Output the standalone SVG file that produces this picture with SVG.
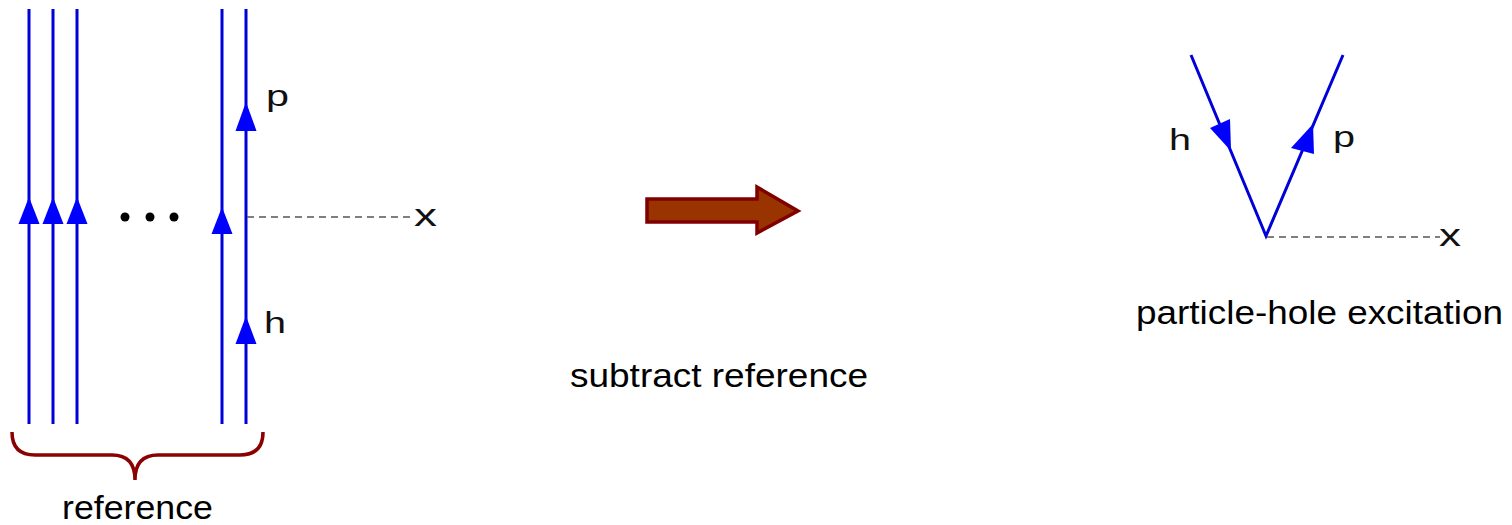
<svg xmlns="http://www.w3.org/2000/svg" width="1512" height="525" viewBox="0 0 1512 525">
<style>
.fl{stroke:#0000d8;stroke-width:3;fill:none}
.ah{fill:#0000ff}
.dash{stroke:#555;stroke-width:1.3;stroke-dasharray:7,5;fill:none}
.lbl{font-family:"Liberation Sans",Arial,sans-serif;font-size:29px;fill:#111}
.xl{font-family:"Liberation Sans",Arial,sans-serif;font-size:31px;fill:#111}
.cap{font-family:"Liberation Sans",Arial,sans-serif;font-size:34px;fill:#000}
</style>
<rect width="1512" height="525" fill="#fff"/>
<g id="connectors">
<line class="fl" x1="29" y1="9" x2="29" y2="424"/>
<line class="fl" x1="53" y1="9" x2="53" y2="424"/>
<line class="fl" x1="77" y1="9" x2="77" y2="424"/>
<line class="fl" x1="222" y1="9" x2="222" y2="424"/>
<line class="fl" x1="246" y1="9" x2="246" y2="424"/>
<polygon class="ah" points="29,197 18.5,224 39.5,224"/>
<polygon class="ah" points="53,197 42.5,224 63.5,224"/>
<polygon class="ah" points="77,197 66.5,224 87.5,224"/>
<polygon class="ah" points="222,207 211.5,234 232.5,234"/>
<polygon class="ah" points="246,102 235.5,131 256.5,131"/>
<polygon class="ah" points="246,316 235.5,344 256.5,344"/>
<line class="dash" x1="247" y1="217" x2="412" y2="217"/>
<polyline class="fl" points="1191,55 1266,236 1343,55"/>
<polygon class="ah" points="1231,151 1210,128 1230,119"/>
<polygon class="ah" points="1313,124 1291,148 1314,154"/>
<line class="dash" x1="1267" y1="237" x2="1440" y2="237"/>
</g>
<g id="dots">
<circle cx="125" cy="217" r="4.5" fill="#000"/>
<circle cx="150" cy="217" r="4.5" fill="#000"/>
<circle cx="174" cy="217" r="4.5" fill="#000"/>
</g>
<g id="labels-left">
<text class="lbl" x="266" y="106" textLength="23" lengthAdjust="spacingAndGlyphs">p</text>
<text class="lbl" x="264" y="333" textLength="22" lengthAdjust="spacingAndGlyphs">h</text>
<text class="xl" x="414" y="226" textLength="23" lengthAdjust="spacingAndGlyphs">x</text>
</g>
<g id="brace">
<path d="M12,432 Q12,455 35,455 L112,455 Q135,455 135,480 Q135,455 158,455 L240,455 Q263,455 263,432" fill="none" stroke="#8b0000" stroke-width="3.5"/>
<text class="cap" x="62" y="519" textLength="151" lengthAdjust="spacingAndGlyphs">reference</text>
</g>
<g id="big-arrow">
<polygon points="647,199 757,199 757,187 798,211 757,233 757,222 647,222" fill="#993300" stroke="#800000" stroke-width="3.5" stroke-linejoin="miter"/>
<text class="cap" x="570" y="387" textLength="298" lengthAdjust="spacingAndGlyphs">subtract reference</text>
</g>
<g id="labels-right">
<text class="lbl" x="1169" y="150" textLength="22" lengthAdjust="spacingAndGlyphs">h</text>
<text class="lbl" x="1333" y="147" textLength="22" lengthAdjust="spacingAndGlyphs">p</text>
<text class="xl" x="1439" y="246" textLength="22" lengthAdjust="spacingAndGlyphs">x</text>
<text class="cap" x="1136" y="324" textLength="367" lengthAdjust="spacingAndGlyphs">particle-hole excitation</text>
</g>
</svg>
